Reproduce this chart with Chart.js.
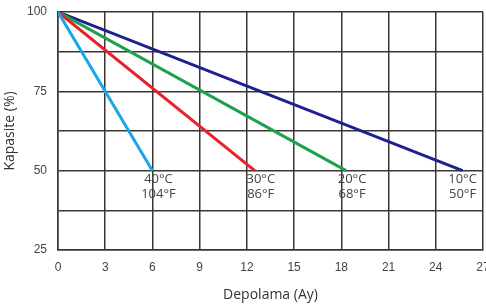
<!DOCTYPE html>
<html><head><meta charset="utf-8">
<script src="https://cdn.jsdelivr.net/npm/chart.js@4/dist/chart.umd.min.js"></script>
<style>html,body{margin:0;padding:0;background:#fff;}#wrap{width:486px;height:307px;}</style>
</head><body><div id="wrap"><canvas id="c"></canvas></div>
<script>
const seriesNames = ['40°C', '30°C', '20°C', '10°C'];
const fahrenheit = ['104°F', '86°F', '68°F', '50°F'];
const startMonths = [0, 0, 0, 0];
const endMonths = [6, 12.5, 18.3, 25.7];
const startCapacity = [100, 100, 100, 100];
const endCapacity = [50, 50, 50, 50];
const colors = ['#1ba6e6', '#e8202a', '#1ca24c', '#1f2090'];
const xTicks = [0, 3, 6, 9, 12, 15, 18, 21, 24, 27];
const yLabels = [25, 50, 75, 100];

const datasets = seriesNames.map((n, i) => ({
  label: n,
  data: [{x: startMonths[i], y: startCapacity[i]}, {x: endMonths[i], y: endCapacity[i]}],
  borderColor: colors[i], backgroundColor: colors[i],
  borderWidth: 3, pointRadius: 0, fill: false, tension: 0
}));

const tempLabels = {
  id: 'tempLabels',
  afterDatasetsDraw(chart) {
    const ctx = chart.ctx, xs = chart.scales.x, ys = chart.scales.y;
    ctx.save();
    ctx.fillStyle = '#444';
    ctx.font = '13px "Open Sans", sans-serif';
    ctx.textAlign = 'center';
    ctx.textBaseline = 'middle';
    seriesNames.forEach((n, i) => {
      const px = xs.getPixelForValue(endMonths[i]) + (i === 3 ? 0 : 6);
      const py = ys.getPixelForValue(endCapacity[i]);
      ctx.fillText(n, px, py + 9);
      ctx.fillText(fahrenheit[i], px, py + 24);
    });
    ctx.restore();
  }
};

new Chart(document.getElementById('c'), {
  type: 'line',
  data: { datasets },
  options: {
    responsive: true, maintainAspectRatio: false, animation: false,
    layout: { padding: { top: 12, right: 3, left: 2, bottom: 0 } },
    plugins: { legend: { display: false }, tooltip: { enabled: false } },
    scales: {
      x: {
        type: 'linear', min: 0, max: 27,
        afterBuildTicks(s) { s.ticks = xTicks.map(v => ({ value: v })); },
        afterFit(s) { s.height = 57; s.paddingRight = 0; s.paddingLeft = 0; },
        grid: { color: '#3d3533', lineWidth: 1.5, drawTicks: false },
        border: { color: '#3d3533', width: 1.5 },
        ticks: { color: '#444', font: { size: 12, family: 'Liberation Sans, Arial, sans-serif' }, padding: 10, maxRotation: 0 },
        title: { display: true, text: 'Depolama (Ay)', color: '#333', font: { size: 14, family: '"Open Sans", sans-serif' }, padding: { top: 2 } }
      },
      y: {
        min: 25, max: 100,
        ticks: {
          stepSize: 12.5, color: '#444', padding: 11,
          font: { size: 12, family: 'Liberation Sans, Arial, sans-serif' },
          callback: v => yLabels.includes(v) ? String(v) : ''
        },
        afterFit(s) { s.width = 56; s.paddingTop = 0; s.paddingBottom = 0; },
        grid: { color: '#3d3533', lineWidth: 1.5, drawTicks: false },
        border: { color: '#3d3533', width: 1.5 },
        title: { display: true, text: 'Kapasite (%)', color: '#333', font: { size: 14, family: '"Open Sans", sans-serif' }, padding: 0 }
      }
    }
  },
  plugins: [tempLabels]
});
</script></body></html>
